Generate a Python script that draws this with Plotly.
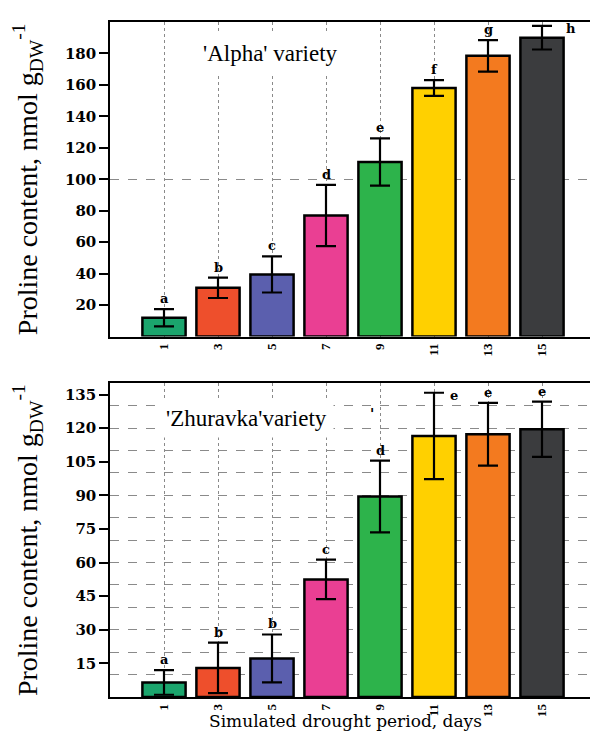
import plotly.graph_objects as go

days = ["1", "3", "5", "7", "9", "11", "13", "15"]
colors = ["#1ba56d", "#ee4f2c", "#5b5fae", "#ea3f93", "#2db34b", "#ffd000", "#f37a1f", "#3b3c3e"]

alpha_vals = [12, 31, 39.5, 77, 111, 158, 178.5, 190]
alpha_err = [5.5, 6.5, 11.5, 19.5, 15, 5, 10, 7.5]
alpha_letters = ["a", "b", "c", "d", "e", "f", "g", "h"]

zhur_vals = [6.5, 13, 17.2, 52.5, 89.5, 116.5, 117.3, 119.5]
zhur_err = [5.5, 11.3, 10.7, 8.8, 16, 19.3, 14, 12.3]
zhur_letters = ["a", "b", "b", "c", "d", "e", "e", "e"]

alpha_ticks = [20, 40, 60, 80, 100, 120, 140, 160, 180]
zhur_ticks = [15, 30, 45, 60, 75, 90, 105, 120, 135]
alpha_grid = [100]

SERIF = "Liberation Serif"
BOLD = "DejaVu Serif"

fig = go.Figure()

def add_bars(vals, errs, xa, ya):
    fig.add_trace(go.Bar(
        x=days, y=vals, xaxis=xa, yaxis=ya, width=0.8,
        marker=dict(color=colors, line=dict(color="black", width=2.5)),
        error_y=dict(type="data", array=errs, color="black", thickness=2.2, width=10),
        showlegend=False, hoverinfo="skip"))

add_bars(alpha_vals, alpha_err, "x", "y")
add_bars(zhur_vals, zhur_err, "x2", "y2")
# invisible traces so the grid overlay axes are built
fig.add_trace(go.Scatter(x=[], y=[], xaxis="x", yaxis="y3", showlegend=False))
fig.add_trace(go.Scatter(x=[], y=[], xaxis="x2", yaxis="y4", showlegend=False))

annotations = []
def add_letters(vals, errs, letters, xref, yref, side_idx):
    for i, (v, e, l) in enumerate(zip(vals, errs, letters)):
        font = dict(family=BOLD, size=13, color="black", weight="bold")
        if i in side_idx:
            annotations.append(dict(x=i, y=v + e, xref=xref, yref=yref, text=l,
                                    showarrow=False, xanchor="left", yanchor="middle",
                                    xshift=side_idx[i], yshift=-3, font=font))
        else:
            annotations.append(dict(x=i, y=v + e, xref=xref, yref=yref, text=l,
                                    showarrow=False, xanchor="center", yanchor="bottom",
                                    yshift=1, font=font))

add_letters(alpha_vals, alpha_err, alpha_letters, "x", "y", {7: 22})
add_letters(zhur_vals, zhur_err, zhur_letters, "x2", "y2", {5: 14})

annotations.append(dict(x=0.172, y=0.953, xref="paper", yref="paper", text="'Alpha' variety",
                        showarrow=False, xanchor="left", yanchor="middle",
                        font=dict(family=SERIF, size=23, color="black"),
                        bgcolor="white", borderpad=8))
annotations.append(dict(x=0.101, y=0.412, xref="paper", yref="paper", text="'Zhuravka'variety",
                        showarrow=False, xanchor="left", yanchor="middle",
                        font=dict(family=SERIF, size=23, color="black"),
                        bgcolor="white", borderpad=6))
annotations.append(dict(x=0.539, y=0.419, xref="paper", yref="paper", text="'",
                        showarrow=False, font=dict(family=BOLD, size=14, color="black", weight="bold")))
annotations.append(dict(x=0.485, y=0, xref="paper", yref="paper",
                        text="Simulated drought period, days",
                        showarrow=False, xanchor="center", yanchor="bottom", yshift=-36,
                        font=dict(family=BOLD, size=17, color="black")))

xcommon = dict(type="category", range=[-1, 8], showline=True, mirror=True,
               linecolor="black", linewidth=1.5, showgrid=True, gridcolor="#8a8a8a",
               griddash="dot", gridwidth=1, ticks="", tickangle=-90,
               tickfont=dict(family=SERIF, size=13, color="black", weight="bold"),
               automargin=False)
ycommon = dict(showline=True, mirror=True, linecolor="black", linewidth=1.5,
               showgrid=False, ticks="outside", ticklen=9, tickwidth=1.5, tickcolor="black",
               tickfont=dict(family=BOLD, size=15, color="black", weight="bold"),
               automargin=False, zeroline=False)
ytitle = dict(text="Proline content, nmol g<sub>DW</sub><sup>-1</sup>",
              font=dict(family=SERIF, size=28, color="black"), standoff=20)
gridaxis = dict(showticklabels=False, ticks="", showgrid=True, gridcolor="#8a8a8a",
                griddash="dash", gridwidth=1, zeroline=False, showline=False,
                automargin=False)

# page body has an 8px default margin, so the figure is sized to fit inside it
fig.update_layout(
    width=590, height=725,
    margin=dict(l=102, r=2, t=14, b=36, autoexpand=False),
    paper_bgcolor="white", plot_bgcolor="white",
    bargap=0.2,
    xaxis=dict(domain=[0, 1], anchor="y", **xcommon),
    yaxis=dict(domain=[0.534, 1], anchor="x", range=[0, 200], tickvals=alpha_ticks,
               title=ytitle, **ycommon),
    xaxis2=dict(domain=[0, 1], anchor="y2", **xcommon),
    yaxis2=dict(domain=[0, 0.4647], anchor="x2", range=[0, 140], tickvals=zhur_ticks,
                title=ytitle, **ycommon),
    yaxis3=dict(overlaying="y", anchor="x", range=[0, 200], tickvals=alpha_grid, **gridaxis),
    yaxis4=dict(overlaying="y2", anchor="x2", range=[0, 140], tick0=0, dtick=10, **gridaxis),
    annotations=annotations,
)

fig.write_html("out.html")
